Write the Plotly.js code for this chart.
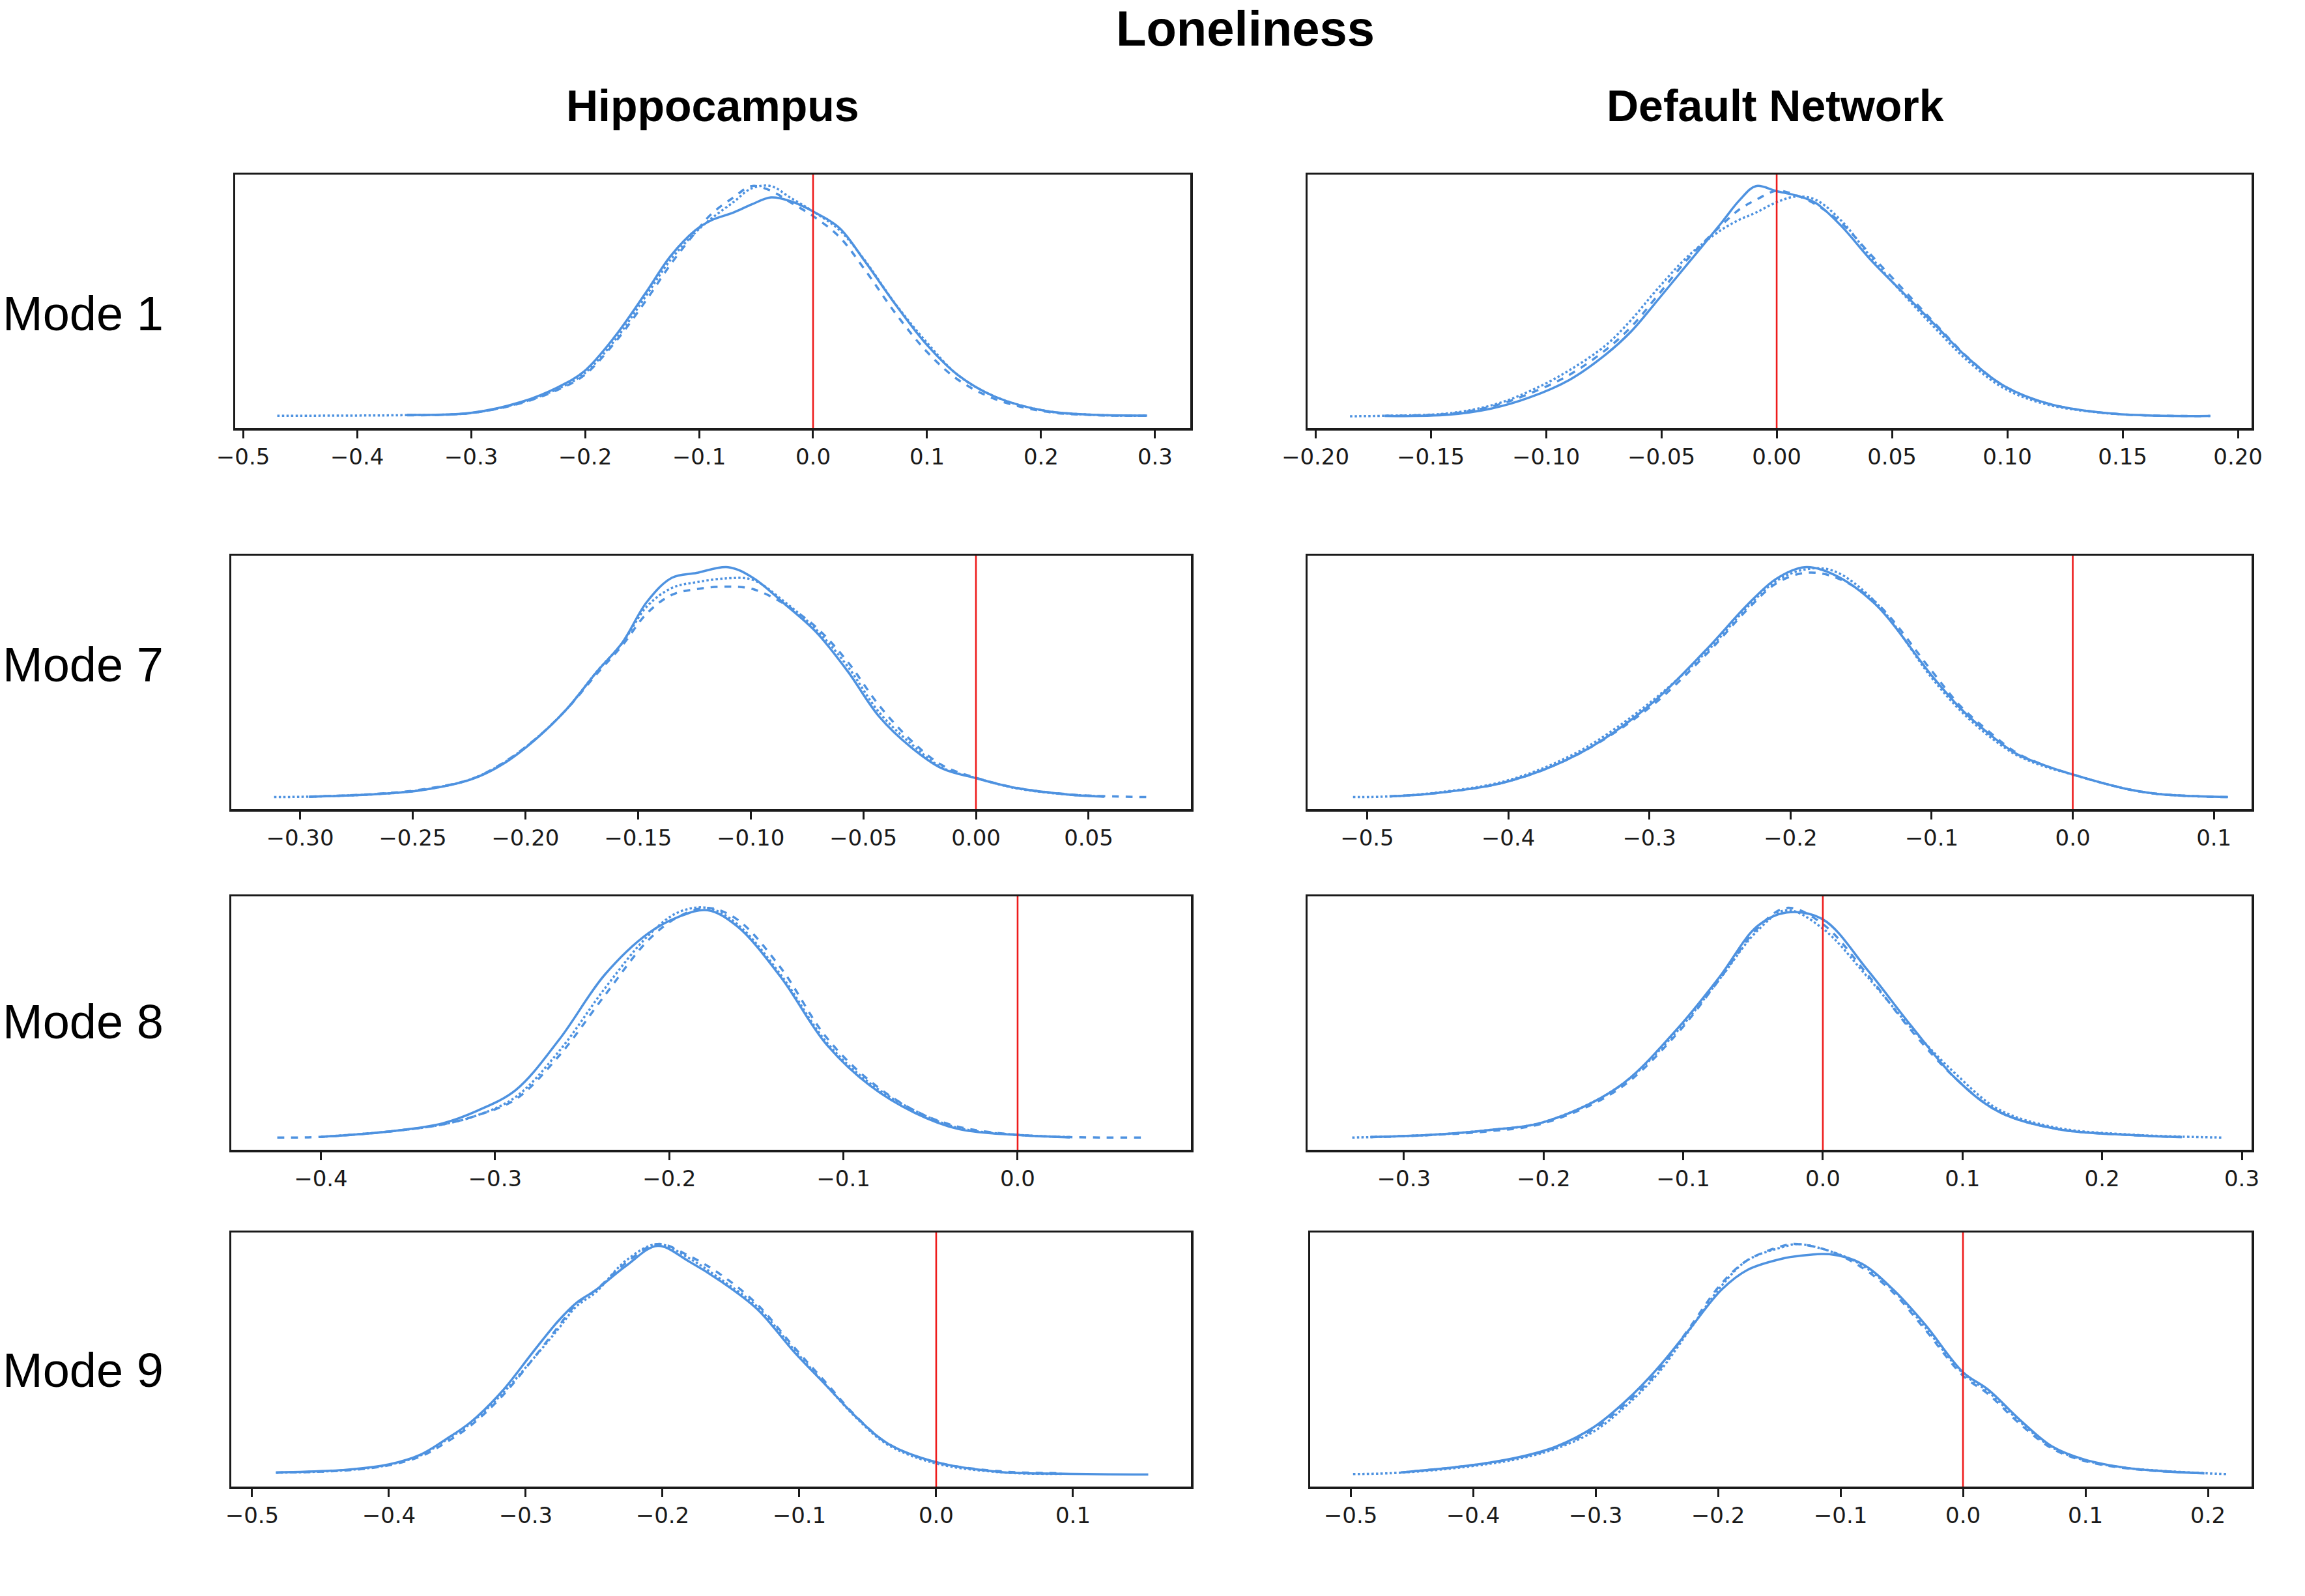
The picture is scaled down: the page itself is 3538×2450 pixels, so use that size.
<!DOCTYPE html>
<html><head><meta charset="utf-8">
<script src="https://cdn.plot.ly/plotly-3.0.1.min.js"></script>
<style>html,body{margin:0;padding:0;background:#fff}</style>
</head><body><div id="chart" style="width:3538px;height:2450px"></div>
<script>
// Relative posterior density heights (1 = tallest curve in panel).
// Panel: Hippocampus, Mode 1
const hipM1_x      = [-0.47, -0.40, -0.356, -0.30, -0.256, -0.223, -0.201, -0.174, -0.147, -0.125, -0.103, -0.089, -0.07, -0.054, -0.037, -0.02, 0.0, 0.023, 0.045, 0.072, 0.10, 0.127, 0.16, 0.204, 0.247, 0.293];
const hipM1_solid  = [null, null, 0.007, 0.016, 0.063, 0.129, 0.195, 0.346, 0.535, 0.696, 0.809, 0.852, 0.885, 0.92, 0.951, 0.935, 0.89, 0.819, 0.677, 0.488, 0.31, 0.18, 0.085, 0.024, 0.007, 0.004];
const hipM1_dashed = [null, null, 0.005, 0.015, 0.058, 0.118, 0.178, 0.32, 0.50, 0.66, 0.80, 0.88, 0.95, 1.0, 0.98, 0.93, 0.87, 0.78, 0.64, 0.45, 0.28, 0.16, 0.075, 0.021, 0.006, 0.003];
const hipM1_dotted = [0.003, 0.004, 0.006, 0.015, 0.06, 0.122, 0.185, 0.33, 0.52, 0.68, 0.80, 0.86, 0.93, 0.99, 1.0, 0.95, 0.89, 0.81, 0.68, 0.49, 0.32, 0.18, 0.085, 0.024, 0.007, 0.003];

// Panel: Default Network, Mode 1
const dnM1_x      = [-0.185, -0.17, -0.142, -0.123, -0.107, -0.09, -0.074, -0.063, -0.052, -0.038, -0.024, -0.016, -0.009, 0.0, 0.0085, 0.017, 0.028, 0.041, 0.055, 0.069, 0.083, 0.099, 0.118, 0.146, 0.188];
const dnM1_solid  = [null, 0.002, 0.008, 0.036, 0.083, 0.158, 0.27, 0.37, 0.50, 0.67, 0.84, 0.94, 1.0, 0.978, 0.959, 0.926, 0.827, 0.677, 0.535, 0.394, 0.253, 0.13, 0.055, 0.012, 0.002];
const dnM1_dashed = [null, 0.003, 0.012, 0.045, 0.10, 0.18, 0.29, 0.39, 0.52, 0.69, 0.83, 0.90, 0.94, 0.98, 0.96, 0.92, 0.84, 0.70, 0.55, 0.40, 0.255, 0.13, 0.055, 0.012, 0.002];
const dnM1_dotted = [0.001, 0.003, 0.014, 0.05, 0.11, 0.20, 0.31, 0.42, 0.55, 0.70, 0.81, 0.855, 0.885, 0.93, 0.955, 0.94, 0.85, 0.69, 0.53, 0.38, 0.24, 0.12, 0.05, 0.011, null];

// Panel: Hippocampus, Mode 7
const hipM7_x      = [-0.3115, -0.296, -0.266, -0.246, -0.224, -0.21, -0.196, -0.182, -0.168, -0.157, -0.146, -0.135, -0.124, -0.11, -0.099, -0.085, -0.071, -0.057, -0.043, -0.029, -0.015, 0.0, 0.018, 0.041, 0.057, 0.077];
const hipM7_solid  = [null, 0.003, 0.015, 0.032, 0.079, 0.145, 0.248, 0.38, 0.549, 0.672, 0.85, 0.954, 0.975, 1.0, 0.954, 0.841, 0.719, 0.549, 0.352, 0.22, 0.126, 0.084, 0.041, 0.013, 0.004, null];
const hipM7_dashed = [null, 0.004, 0.016, 0.035, 0.08, 0.15, 0.25, 0.38, 0.54, 0.66, 0.80, 0.88, 0.905, 0.916, 0.905, 0.84, 0.74, 0.59, 0.40, 0.25, 0.14, 0.086, 0.042, 0.014, 0.006, 0.002];
const hipM7_dotted = [0.002, 0.004, 0.015, 0.033, 0.08, 0.148, 0.25, 0.38, 0.55, 0.67, 0.83, 0.91, 0.935, 0.952, 0.945, 0.85, 0.73, 0.57, 0.37, 0.235, 0.13, 0.085, 0.04, 0.013, 0.005, null];

// Panel: Default Network, Mode 7
const dnM7_x      = [-0.51, -0.484, -0.45, -0.40, -0.35, -0.30, -0.26, -0.23, -0.21, -0.19, -0.17, -0.14, -0.10, -0.08, -0.06, -0.04, -0.02, 0.0, 0.02, 0.04, 0.06, 0.09, 0.11];
const dnM7_solid  = [null, 0.005, 0.02, 0.07, 0.19, 0.40, 0.64, 0.84, 0.95, 1.0, 0.97, 0.84, 0.53, 0.39, 0.28, 0.19, 0.14, 0.10, 0.065, 0.035, 0.016, 0.005, 0.002];
const dnM7_dashed = [null, 0.005, 0.02, 0.07, 0.19, 0.39, 0.62, 0.82, 0.93, 0.975, 0.96, 0.85, 0.55, 0.40, 0.29, 0.195, 0.14, 0.10, 0.065, 0.035, 0.016, 0.005, 0.002];
const dnM7_dotted = [0.002, 0.005, 0.022, 0.075, 0.20, 0.41, 0.63, 0.83, 0.94, 0.99, 0.985, 0.85, 0.52, 0.38, 0.27, 0.185, 0.135, 0.10, 0.065, 0.035, 0.016, 0.005, null];

// Panel: Hippocampus, Mode 8
const hipM8_x      = [-0.425, -0.40, -0.36, -0.33, -0.31, -0.288, -0.263, -0.237, -0.212, -0.195, -0.178, -0.161, -0.136, -0.11, -0.085, -0.059, -0.034, 0.0, 0.03, 0.073];
const hipM8_solid  = [null, 0.006, 0.03, 0.065, 0.12, 0.21, 0.43, 0.71, 0.89, 0.96, 0.99, 0.92, 0.70, 0.41, 0.23, 0.11, 0.04, 0.014, 0.004, null];
const hipM8_dashed = [0.003, 0.006, 0.03, 0.06, 0.10, 0.17, 0.36, 0.62, 0.86, 0.96, 1.0, 0.95, 0.74, 0.44, 0.25, 0.12, 0.05, 0.015, 0.005, 0.003];
const hipM8_dotted = [null, 0.006, 0.03, 0.06, 0.10, 0.18, 0.38, 0.65, 0.88, 0.98, 1.0, 0.93, 0.71, 0.42, 0.24, 0.12, 0.045, 0.015, 0.005, null];

// Panel: Default Network, Mode 8
const dnM8_x      = [-0.337, -0.324, -0.28, -0.24, -0.2, -0.147, -0.105, -0.074, -0.047, -0.026, 0.0, 0.032, 0.063, 0.095, 0.126, 0.168, 0.22, 0.257, 0.287];
const dnM8_solid  = [null, 0.005, 0.015, 0.035, 0.07, 0.22, 0.47, 0.70, 0.92, 0.98, 0.95, 0.73, 0.49, 0.26, 0.115, 0.04, 0.014, 0.005, null];
const dnM8_dashed = [null, 0.005, 0.014, 0.03, 0.065, 0.21, 0.45, 0.69, 0.91, 1.0, 0.93, 0.71, 0.47, 0.26, 0.115, 0.04, 0.014, 0.005, null];
const dnM8_dotted = [0.003, 0.005, 0.015, 0.035, 0.07, 0.22, 0.46, 0.69, 0.90, 0.99, 0.91, 0.70, 0.48, 0.28, 0.125, 0.045, 0.016, 0.007, 0.003];

// Panel: Hippocampus, Mode 9
const hipM9_x      = [-0.4825, -0.431, -0.40, -0.377, -0.3585, -0.34, -0.3175, -0.295, -0.2765, -0.263, -0.249, -0.2264, -0.2036, -0.181, -0.158, -0.131, -0.1034, -0.0806, -0.0579, -0.035, 0.0, 0.047, 0.0925, 0.155];
const hipM9_solid  = [0.011, 0.023, 0.046, 0.088, 0.154, 0.23, 0.361, 0.53, 0.665, 0.745, 0.80, 0.907, 0.992, 0.926, 0.841, 0.719, 0.53, 0.389, 0.248, 0.135, 0.056, 0.013, 0.006, 0.002];
const hipM9_dashed = [0.01, 0.02, 0.042, 0.08, 0.14, 0.215, 0.34, 0.50, 0.64, 0.74, 0.80, 0.92, 1.0, 0.95, 0.87, 0.74, 0.55, 0.40, 0.25, 0.135, 0.055, 0.016, 0.008, null];
const hipM9_dotted = [0.01, 0.021, 0.044, 0.085, 0.15, 0.225, 0.35, 0.50, 0.63, 0.73, 0.79, 0.93, 1.0, 0.94, 0.85, 0.73, 0.54, 0.39, 0.245, 0.13, 0.05, 0.012, 0.005, null];

// Panel: Default Network, Mode 9
const dnM9_x      = [-0.498, -0.459, -0.4046, -0.363, -0.332, -0.301, -0.275, -0.249, -0.223, -0.197, -0.176, -0.145, -0.135, -0.109, -0.083, -0.057, -0.031, 0.0, 0.0207, 0.0467, 0.0726, 0.0985, 0.1349, 0.197, 0.215];
const dnM9_solid  = [null, 0.011, 0.04, 0.077, 0.124, 0.209, 0.322, 0.464, 0.633, 0.803, 0.888, 0.94, 0.948, 0.956, 0.916, 0.803, 0.652, 0.445, 0.369, 0.2375, 0.124, 0.068, 0.03, 0.007, null];
const dnM9_dashed = [null, 0.011, 0.04, 0.075, 0.12, 0.20, 0.31, 0.45, 0.64, 0.83, 0.93, 0.995, 1.0, 0.97, 0.90, 0.79, 0.63, 0.43, 0.35, 0.22, 0.115, 0.062, 0.028, 0.007, null];
const dnM9_dotted = [0.004, 0.01, 0.036, 0.07, 0.115, 0.19, 0.30, 0.44, 0.63, 0.82, 0.93, 0.99, 1.0, 0.97, 0.91, 0.80, 0.64, 0.44, 0.36, 0.23, 0.12, 0.065, 0.03, 0.008, 0.004];

const columnTitles = ["Hippocampus", "Default Network"];
const rowTitles = ["Mode 1", "Mode 7", "Mode 8", "Mode 9"];
const mainTitle = "Loneliness";

// ----- layout geometry (pixels of the 3538x2450 figure) -----
const W = 3538, H = 2450;
const panels = [
  {x: hipM1_x, s: hipM1_solid, d: hipM1_dashed, o: hipM1_dotted, px: [361, 1827], py: [268, 657], range: [-0.5069, 0.3309], dtick: 0.1, fmt: '.1f'},
  {x: dnM1_x,  s: dnM1_solid,  d: dnM1_dashed,  o: dnM1_dotted,  px: [2007, 3456], py: [268, 657], range: [-0.2034, 0.2059], dtick: 0.05, fmt: '.2f'},
  {x: hipM7_x, s: hipM7_solid, d: hipM7_dashed, o: hipM7_dotted, px: [355, 1828], py: [853, 1242], range: [-0.3305, 0.0954], dtick: 0.05, fmt: '.2f'},
  {x: dnM7_x,  s: dnM7_solid,  d: dnM7_dashed,  o: dnM7_dotted,  px: [2007, 3456], py: [853, 1242], range: [-0.5422, 0.1267], dtick: 0.1, fmt: '.1f'},
  {x: hipM8_x, s: hipM8_solid, d: hipM8_dashed, o: hipM8_dotted, px: [355, 1828], py: [1376, 1765], range: [-0.4514, 0.0995], dtick: 0.1, fmt: '.1f'},
  {x: dnM8_x,  s: dnM8_solid,  d: dnM8_dashed,  o: dnM8_dotted,  px: [2007, 3456], py: [1376, 1765], range: [-0.369, 0.307], dtick: 0.1, fmt: '.1f'},
  {x: hipM9_x, s: hipM9_solid, d: hipM9_dashed, o: hipM9_dotted, px: [355, 1828], py: [1892, 2282], range: [-0.5152, 0.1862], dtick: 0.1, fmt: '.1f'},
  {x: dnM9_x,  s: dnM9_solid,  d: dnM9_dashed,  o: dnM9_dotted,  px: [2011, 3456], py: [1892, 2282], range: [-0.533, 0.2356], dtick: 0.1, fmt: '.1f'}
];

const blue = 'rgb(78,146,224)';
const traces = [];
const layout = {
  width: W, height: H,
  margin: {l: 0, r: 0, t: 0, b: 0},
  paper_bgcolor: '#ffffff', plot_bgcolor: '#ffffff',
  showlegend: false,
  annotations: []
};

panels.forEach((p, i) => {
  const n = i + 1;
  const xa = 'x' + n, ya = 'y' + n;
  const styles = [['s', 'solid'], ['d', 'dash'], ['o', 'dot']];
  styles.forEach(([k, dash]) => {
    traces.push({
      type: 'scatter', mode: 'lines', x: p.x, y: p[k], xaxis: xa, yaxis: ya,
      line: {color: blue, width: 3.5, dash: dash, shape: 'spline', smoothing: 1},
      hoverinfo: 'skip'
    });
  });
  // reference line at zero
  traces.push({
    type: 'scatter', mode: 'lines', x: [0, 0], y: [-0.05, 1.05], xaxis: xa, yaxis: ya,
    line: {color: '#ee1c1c', width: 2.6}, hoverinfo: 'skip'
  });
  const xkey = 'xaxis' + (n === 1 ? '' : n), ykey = 'yaxis' + (n === 1 ? '' : n);
  layout[xkey] = {
    domain: [p.px[0] / W, p.px[1] / W],
    anchor: ya, range: p.range, dtick: p.dtick, tick0: 0, tickformat: p.fmt,
    showgrid: false, zeroline: false,
    showline: true, mirror: true, linecolor: '#1a1a1a', linewidth: 3.5,
    ticks: 'outside', ticklen: 12, tickwidth: 3, tickcolor: '#1a1a1a',
    tickfont: {family: 'DejaVu Sans', size: 34, color: '#1a1a1a'}
  };
  layout[ykey] = {
    domain: [1 - p.py[1] / H, 1 - p.py[0] / H],
    anchor: xa, range: [-0.05, 1.05],
    showgrid: false, zeroline: false, showticklabels: false, ticks: '',
    showline: true, mirror: true, linecolor: '#1a1a1a', linewidth: 3.5
  };
});

layout.annotations.push({
  text: '<b>' + mainTitle + '</b>', xref: 'paper', yref: 'paper',
  x: 1912 / W, y: 1 - 44 / H, xanchor: 'center', yanchor: 'middle', showarrow: false,
  font: {family: 'Liberation Sans, Arial, sans-serif', size: 76, color: '#000'}
});
const colX = [1094, 2725];
columnTitles.forEach((t, j) => layout.annotations.push({
  text: '<b>' + t + '</b>', xref: 'paper', yref: 'paper',
  x: colX[j] / W, y: 1 - 162 / H, xanchor: 'center', yanchor: 'middle', showarrow: false,
  font: {family: 'Liberation Sans, Arial, sans-serif', size: 68, color: '#000'}
}));
const rowY = [481, 1020, 1568, 2103];
rowTitles.forEach((t, j) => layout.annotations.push({
  text: t, xref: 'paper', yref: 'paper',
  x: 2 / W, y: 1 - rowY[j] / H, xanchor: 'left', yanchor: 'middle', showarrow: false,
  font: {family: 'Liberation Sans, Arial, sans-serif', size: 74, color: '#000'}
}));

Plotly.newPlot('chart', traces, layout, {staticPlot: true});
</script>
</body></html>
